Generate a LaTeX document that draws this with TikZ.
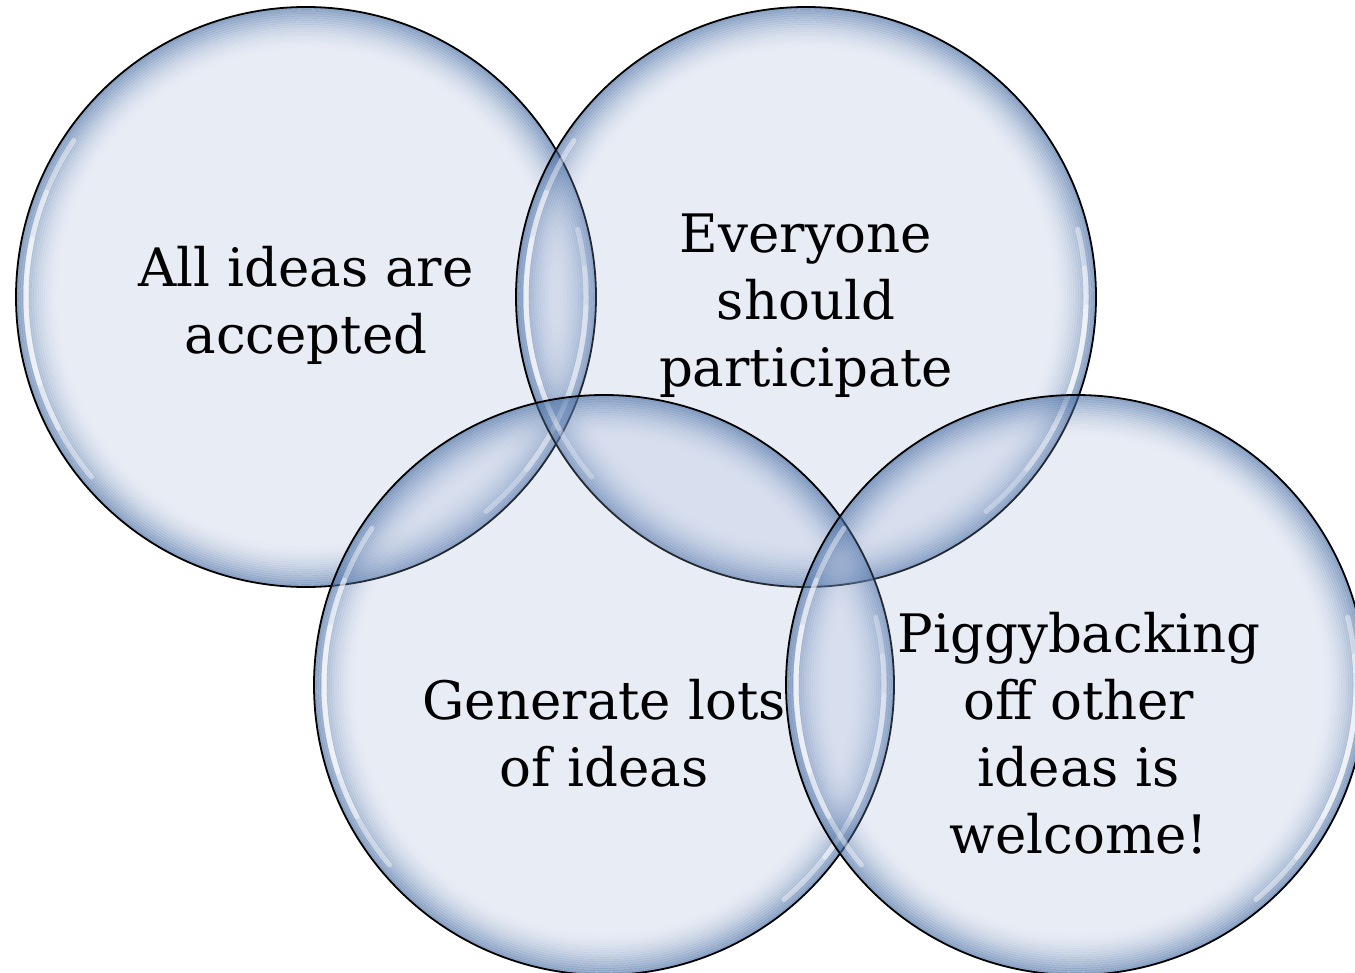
\documentclass[tikz,border=0pt]{standalone}
\usepackage{fontspec}
\setmainfont{DejaVu Serif}
\definecolor{bubblefill}{RGB}{159,177,216}
\definecolor{rimblue}{RGB}{58,100,156}
\tikzset{
  bubble/.style={circle, minimum size=580pt, inner sep=0pt},
  idea/.style={align=center, text=black, font=\fontsize{53}{67}\selectfont},
}
\begin{document}
\begin{tikzpicture}[x=1pt, y=-1pt]
\fill[white] (0,0) rectangle (1355,973);
\useasboundingbox (0,0) rectangle (1355,973);
% the four circles
\node[bubble] (accepted) at (306,297) {};
\node[bubble] (everyone) at (806,297) {};
\node[bubble] (lots) at (604,685) {};
\node[bubble] (piggy) at (1076,685) {};
\foreach \b in {accepted, everyone, lots, piggy} {
  \fill[bubblefill, opacity=0.23] (\b) circle (290pt);
  % blue rim, fading inwards
  \foreach \k [evaluate=\k as \op using {0.55*(1-\k/20)^1.8},
               evaluate=\k as \rr using {291-2.2*\k}] in {1,...,19}
    \draw[rimblue, line width=2.4pt, opacity=\op] (\b) circle (\rr pt);
  % white glints on the rim
  \foreach \s/\e in {168/198, 158/208, 146/220, -28/-2, -38/6, -50/14}
    \draw[white, line width=5pt, opacity=0.42, line cap=round]
      (\b) ++(\s:280pt) arc[start angle=\s, end angle=\e, radius=280pt];
  \draw[black, line width=1.8pt] (\b) circle (290pt);
}
% texts
\node[idea] (acceptedText) at (306,305) {All ideas are\\accepted};
\node[idea] (everyoneText) at (806,306) {Everyone\\should\\participate};
\node[idea] (lotsText) at (604,733) {Generate lots\\of ideas};
\node[idea] (piggyText) at (1079,733) {Piggybacking\\off other\\ideas is\\welcome!};
\end{tikzpicture}
\end{document}
